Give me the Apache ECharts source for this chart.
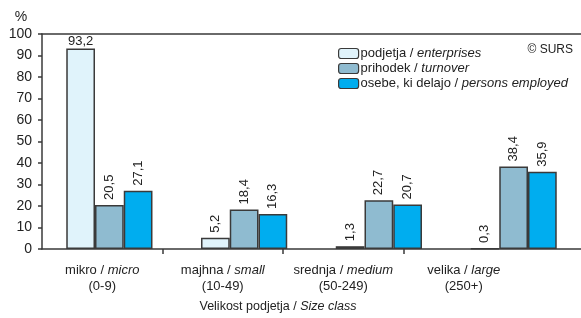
<!DOCTYPE html>
<html>
<head>
<meta charset="utf-8">
<script src="https://cdn.jsdelivr.net/npm/echarts@6.0.0/dist/echarts.min.js"></script>
<style>
  html, body { margin: 0; padding: 0; background: #fff; }
  #chart { width: 581px; height: 318px; }
</style>
</head>
<body>
<div id="chart"></div>
<script>
// size classes (Slovenian / English / range)
const classSl = ['mikro', 'majhna', 'srednja', 'velika'];
const classEn = ['micro', 'small', 'medium', 'large'];
const classRange = ['(0-9)', '(10-49)', '(50-249)', '(250+)'];

const seriesNamesSl = ['podjetja', 'prihodek', 'osebe, ki delajo'];
const seriesNamesEn = ['enterprises', 'turnover', 'persons employed'];

// shares in %
const enterprises = [93.2, 5.2, 1.3, 0.3];
const turnover = [20.5, 18.4, 22.7, 38.4];
const employed = [27.1, 16.3, 20.7, 35.9];

const yTicks = [0, 10, 20, 30, 40, 50, 60, 70, 80, 90, 100];

const colors = ['#e0f3fb', '#8fbbd0', '#00adef'];
const ink = '#222';
const lineCol = '#3a3a3a';
const sans = '"Liberation Sans", Arial, sans-serif';

const chart = echarts.init(document.getElementById('chart'), null, { renderer: 'canvas' });

const fmt = (v) => v.toFixed(1).replace('.', ',');

// label axis is a bit narrower than the bar axis in the original
const labelUnit = 120.5;
const plotWidth = 581 - 42;

const barLabel = {
  show: true,
  position: 'top',
  rotate: 90,
  align: 'left',
  verticalAlign: 'middle',
  distance: 5,
  fontFamily: sans,
  fontSize: 13,
  color: ink,
  formatter: (p) => fmt(p.value)
};

const makeSeries = (idx, values) => ({
  name: seriesNamesSl[idx],
  type: 'bar',
  xAxisIndex: 0,
  barGap: 0,
  barCategoryGap: '36%',
  itemStyle: { color: colors[idx], borderColor: lineCol, borderWidth: 1.5 },
  label: barLabel,
  data: values.map((v) => (v > 80
    ? { value: v, label: { rotate: 0, align: 'center', verticalAlign: 'bottom', distance: 1 } }
    : v)),
  emphasis: { disabled: true }
});

const option = {
  animation: false,
  backgroundColor: '#fff',
  grid: { left: 42, right: 0, top: 34, bottom: 69, containLabel: false },
  legend: {
    orient: 'vertical',
    left: 333,
    top: 42,
    itemWidth: 20,
    itemHeight: 10,
    itemGap: 2,
    selectedMode: false,
    textStyle: {
      fontFamily: sans, fontSize: 13, color: ink, padding: [0, 0, 0, -3],
      rich: { i: { fontFamily: sans, fontSize: 13, fontStyle: 'italic', color: ink } }
    },
    formatter: (name) => name + ' / {i|' + seriesNamesEn[seriesNamesSl.indexOf(name)] + '}',
    data: seriesNamesSl.map((n, i) => ({
      name: n,
      itemStyle: { color: colors[i], borderColor: lineCol, borderWidth: 1.2 }
    }))
  },
  xAxis: [
    {
      type: 'category',
      data: classSl,
      position: 'bottom',
      axisLine: { show: true, lineStyle: { color: lineCol, width: 1.5 } },
      axisTick: { show: false },
      axisLabel: { show: false },
      splitLine: { show: false }
    },
    {
      type: 'value',
      position: 'bottom',
      min: 0,
      max: plotWidth / labelUnit,
      axisLine: { show: false },
      axisTick: {
        show: true, length: 5, lineStyle: { color: lineCol, width: 1.5 },
        customValues: [1, 2, 3]
      },
      axisLabel: {
        show: true,
        margin: 13,
        customValues: classSl.map((c, i) => i + 0.5),
        fontFamily: sans,
        fontSize: 13,
        lineHeight: 16,
        color: ink,
        align: 'center',
        formatter: (v) => {
          const i = Math.floor(v);
          return classSl[i] + ' / {i|' + classEn[i] + '}\n' + classRange[i];
        },
        rich: { i: { fontFamily: sans, fontSize: 13, fontStyle: 'italic', color: ink, lineHeight: 16 } }
      },
      splitLine: { show: false }
    },
    {
      type: 'category',
      data: classSl,
      position: 'top',
      axisLine: { show: true, lineStyle: { color: lineCol, width: 1.5 } },
      axisTick: { show: false },
      axisLabel: { show: false },
      splitLine: { show: false }
    }
  ],
  yAxis: {
    type: 'value',
    min: yTicks[0],
    max: yTicks[yTicks.length - 1],
    interval: 10,
    axisLine: { show: true, lineStyle: { color: lineCol, width: 1.5 } },
    axisTick: { show: true, length: 4, lineStyle: { color: lineCol, width: 1.5 } },
    axisLabel: { fontFamily: sans, fontSize: 14, color: ink, margin: 10 },
    splitLine: { show: false }
  },
  graphic: [
    {
      type: 'text', x: 21, y: 10,
      style: { text: '%', fontFamily: sans, fontSize: 14, fill: ink, align: 'center' }
    },
    {
      type: 'text', x: 573, y: 44,
      style: { text: '© SURS', fontFamily: sans, fontSize: 12, fill: ink, align: 'right' }
    },
    {
      type: 'text', x: 278, y: 300,
      style: {
        text: 'Velikost podjetja / {i|Size class}',
        fontFamily: sans, fontSize: 12.5, fill: ink, align: 'center',
        rich: { i: { fontFamily: sans, fontSize: 12.5, fontStyle: 'italic', fill: ink } }
      }
    }
  ],
  series: [
    makeSeries(0, enterprises),
    makeSeries(1, turnover),
    makeSeries(2, employed)
  ]
};

chart.setOption(option);
</script>
</body>
</html>
